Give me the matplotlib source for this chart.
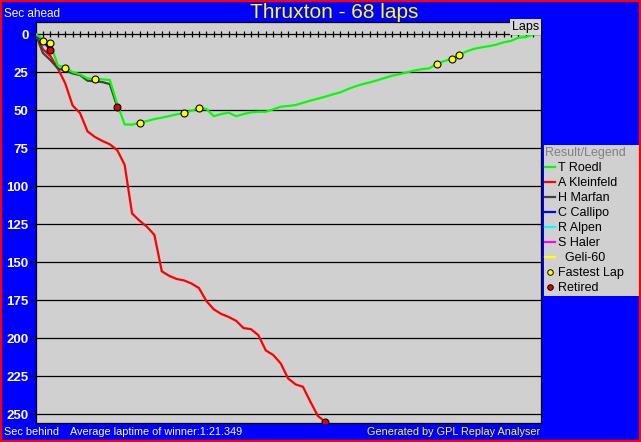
# thruxton_gap_chart.py
# Gap to the winner's average lap, lap by lap (GPL Replay Analyser style)

import matplotlib
matplotlib.use("Agg")
import matplotlib.pyplot as plt
from matplotlib.patches import Rectangle
from matplotlib.lines import Line2D

plt.rcParams["font.family"] = ["Liberation Sans", "DejaVu Sans"]

# --- data (seconds behind the winner's average pace) ---
total_laps = 68
roedl = [0, 3.5, 6.1, 20.5, 22.1, 25.0, 26.5, 29.2, 29.6, 29.8, 30.2, 46.0,
         59.4, 59.6, 58.3, 57.2, 55.9, 55.0, 53.9, 52.8, 52.0, 50.4, 48.7,
         49.3, 54.0, 52.6, 51.7, 54.0, 52.6, 51.5, 51.1, 51.1, 49.5, 47.8,
         47.3, 46.7, 45.2, 43.8, 42.5, 41.2, 39.7, 38.4, 36.3, 34.5, 33.0,
         31.8, 30.4, 28.9, 27.4, 26.4, 25.2, 24.0, 23.1, 22.6, 19.7, 17.8,
         16.4, 13.8, 11.5, 9.8, 8.8, 8.0, 7.0, 5.5, 4.5, 2.4, 2.0, 0.3, 0.0]
kleinfeld = [0, 10.0, 14.5, 22.6, 32.4, 47.0, 52.0, 64.0, 67.7, 70.3, 72.5,
             76.3, 86.0, 118.0, 122.7, 126.7, 132.0, 156.0, 159.0, 161.0,
             162.0, 164.0, 167.0, 175.5, 181.0, 184.0, 186.0, 188.5, 193.3,
             194.0, 198.0, 208.0, 211.0, 216.5, 226.4, 230.3, 231.9, 241.7,
             251.0, 255.0]
marfan = [0, 12.5, 17.1, 22.6, 24.1, 25.9, 27.0, 30.7, 31.1, 31.6, 32.9, 47.8]
callipo = [0, 4.6, 10.5]
alpen = [0]
haler = [0]
geli = [0]

drivers = ["T Roedl", "A Kleinfeld", "H Marfan", "C Callipo", "R Alpen",
           "S Haler", "  Geli-60"]
colors = ["#00ff00", "#ff0000", "#404040", "#0000ff", "#00ffff",
          "#ff00ff", "#ffff00"]
series = [roedl, kleinfeld, marfan, callipo, alpen, haler, geli]

fast_laps = [1, 2, 4, 8, 14, 20, 22, 54, 56, 57]
fast_secs = [4.4, 6.1, 22.1, 29.6, 58.3, 52.0, 48.7, 19.7, 16.4, 13.8]
retired_laps = [2, 11, 39]
retired_secs = [10.5, 47.8, 255.0]

W, H = 641, 442
fig = plt.figure(figsize=(W / 100, H / 100), dpi=100, facecolor="#0000ff")
ax = fig.add_axes([35.5 / W, 1 - 423 / H, (540.7 - 35.5) / W, (423 - 22) / H])
ax.set_facecolor("#d0d0d0")

# gridlines + zero line with lap ticks
for v in range(25, 251, 25):
    ax.axhline(v, color="black", lw=0.9, zorder=1)
ax.axhline(0, color="black", lw=0.9, zorder=1)
ax.plot(range(1, total_laps), [0] * (total_laps - 1), ls="none", marker="|",
        ms=4.5, mew=0.9, color="black", zorder=1)

# draw order: red under the rest, winner on top
order = [1, 2, 3, 4, 5, 6, 0]
for i in order:
    vals = series[i]
    ax.plot(range(len(vals)), vals, color=colors[i], lw=1.6, zorder=3,
            solid_joinstyle="miter")

ax.plot(fast_laps, fast_secs, ls="none", marker="o", ms=5, mfc="#ffff00",
        mec="black", mew=0.8, zorder=5)
ax.plot(retired_laps, retired_secs, ls="none", marker="o", ms=5,
        mfc="#e00000", mec="black", mew=0.8, zorder=5)

ax.set_xlim(0, total_laps)
ax.set_ylim(255.7, -7.9)
ax.set_xticks([])
ax.set_yticks(range(0, 251, 25))
ax.tick_params(axis="y", direction="out", length=4, width=0.9, color="black",
               labelcolor="white", labelsize=9.5, pad=1)
for lab in ax.get_yticklabels():
    lab.set_fontweight("bold")
for s in ax.spines.values():
    s.set_color("black")
    s.set_linewidth(0.9)

# texts
fig.text(334 / W, 1 - 13 / H, "Thruxton - 68 laps", color="#ffff00",
         fontsize=15, ha="center", va="center")
fig.text(4 / W, 1 - 14 / H, "Sec ahead", color="white", fontsize=8.5,
         va="center")
fig.text(4 / W, 1 - 432 / H, "Sec behind", color="white", fontsize=7.8,
         va="center")
fig.text(70 / W, 1 - 432 / H, "Average laptime of winner:1:21.349",
         color="white", fontsize=7.8, va="center")
fig.text(540 / W, 1 - 432 / H, "Generated by GPL Replay Analyser",
         color="#ffff00", fontsize=7.8, ha="right", va="center")
fig.text(539 / W, 1 - 27 / H, "Laps", color="black", fontsize=9,
         ha="right", va="center",
         bbox=dict(facecolor="#d8d8d8", edgecolor="none", pad=1.2))

# legend panel
fig.patches.append(Rectangle((544 / W, 1 - 296 / H), 95 / W, 151 / H,
                             transform=fig.transFigure, facecolor="#d0d0d0",
                             edgecolor="none"))
handles = [Line2D([], [], color=c, lw=1.6) for c in colors]
handles.append(Line2D([], [], ls="none", marker="o", ms=4, mfc="#ffff00",
                      mec="black", mew=0.7))
handles.append(Line2D([], [], ls="none", marker="o", ms=4, mfc="#e00000",
                      mec="black", mew=0.7))
labels = drivers + ["Fastest Lap", "Retired"]
leg = fig.legend(handles, labels, loc="upper left",
                 bbox_to_anchor=(545 / W, 1 - 147.5 / H), frameon=False,
                 title="Result/Legend", fontsize=9, title_fontsize=9,
                 handlelength=0.8, handletextpad=0.25, labelspacing=0.24,
                 borderpad=0, borderaxespad=0, alignment="left")
leg.get_title().set_color("#808080")

# red outer frame
fig.patches.append(Rectangle((0, 0), 1, 1, transform=fig.transFigure,
                             fill=False, edgecolor="#ff0000", lw=3))

fig.savefig("out.png", dpi=100, facecolor=fig.get_facecolor())
